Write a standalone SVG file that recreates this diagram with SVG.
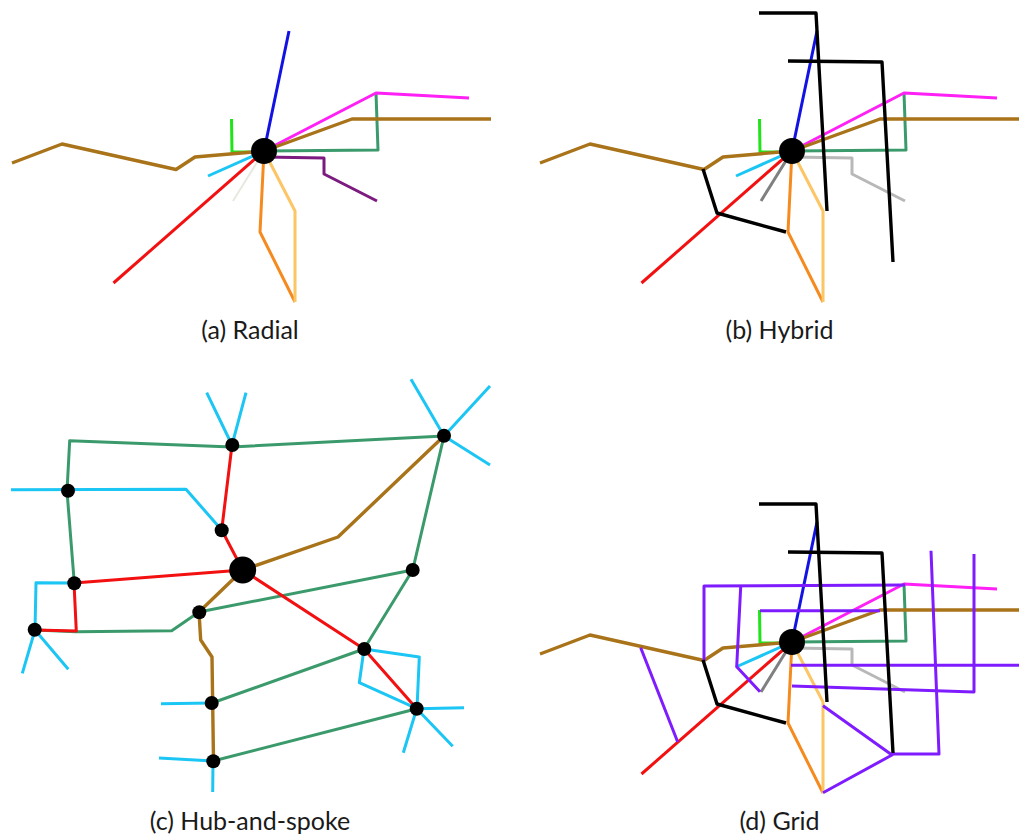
<svg xmlns="http://www.w3.org/2000/svg" width="1019" height="836" viewBox="0 0 1019 836">
<style>
polyline{fill:none;stroke-width:3;stroke-linejoin:round;stroke-linecap:butt}
.br{stroke:#a9731a;stroke-width:3.4}.gn{stroke:#3b9a6b}.cy{stroke:#1cc6f4}.mg{stroke:#ff20f5}
.bl{stroke:#1212e4}.lm{stroke:#20e41a}.rd{stroke:#f21010}.or{stroke:#f58a1e}.lo{stroke:#fcc565}
.pu{stroke:#7c1a80}.pa{stroke:#e8e8e0;stroke-width:2}.dg{stroke:#808080}.lg{stroke:#b8b8b8}
.bk{stroke:#000;stroke-width:3.4}.vi{stroke:#7f1cff}
circle{fill:#000}
text{font-family:"Lato","Open Sans",sans-serif;font-size:25px;fill:#1a1a1a;text-anchor:middle}
</style>
<g id="connectors">
<g id="connectors-a">
<polyline class="lm" points="231.5,119 232,152 264,152"/>
<polyline class="bl" points="264,151 289,31"/>
<polyline class="gn" points="264,151 378,150 376,93"/>
<polyline class="mg" points="264,151 376,93 469,98"/>
<polyline class="br" points="12,163 62,144 176,169.5 195,157 264,151 352,119 491,119"/>
<polyline class="cy" points="208,176 264,151"/>
<polyline class="pa" points="233,201 264,151"/>
<polyline class="rd" points="113.5,283 264,151"/>
<polyline class="or" points="264,151 260,232 295,302"/>
<polyline class="lo" points="264,151 295,211 295,302"/>
<polyline class="pu" points="264,157 324,158 324,174 377,201"/>
</g>
<g id="connectors-b" transform="translate(528 0)">
<polyline class="lm" points="231.5,119 232,152 264,152"/>
<polyline class="bl" points="264,151 289,31"/>
<polyline class="gn" points="264,151 378,150 376,93"/>
<polyline class="mg" points="264,151 376,93 469,98"/>
<polyline class="br" points="12,163 62,144 176,169.5 195,157 264,151 352,119 491,119"/>
<polyline class="cy" points="208,176 264,151"/>
<polyline class="dg" points="233,201 264,151"/>
<polyline class="rd" points="113.5,283 264,151"/>
<polyline class="or" points="264,151 260,232 295,302"/>
<polyline class="lo" points="264,151 295,211 295,302"/>
<polyline class="lg" points="264,157 324,158 324,174 377,201"/>
<polyline class="bk" points="231,13 288,13 299,211"/>
<polyline class="bk" points="260,61 354,62 365,262"/>
<polyline class="bk" points="175,169 189,213 258,232"/>
</g>
<g id="connectors-d" transform="translate(528 491)">
<polyline class="lm" points="231.5,119 232,152 264,152"/>
<polyline class="bl" points="264,151 289,31"/>
<polyline class="gn" points="264,151 378,150 376,93"/>
<polyline class="mg" points="264,151 376,93 469,98"/>
<polyline class="br" points="12,163 62,144 176,169.5 195,157 264,151 352,119 491,119"/>
<polyline class="cy" points="208,176 264,151"/>
<polyline class="dg" points="233,201 264,151"/>
<polyline class="rd" points="113.5,283 264,151"/>
<polyline class="or" points="264,151 260,232 295,302"/>
<polyline class="lo" points="264,151 295,211 295,302"/>
<polyline class="lg" points="264,157 324,158 324,174 377,201"/>
<polyline class="vi" points="176,170 176,95 377,94"/>
<polyline class="vi" points="212.7,95.7 208.7,175.7 232,200.7"/>
<polyline class="vi" points="232,119.7 352,119.7"/>
<polyline class="vi" points="263,174.3 491,174.3"/>
<polyline class="vi" points="264,195 446,201 446,63"/>
<polyline class="vi" points="403,59.7 411,263 364,263"/>
<polyline class="vi" points="295,214.7 364,264 295,301.7"/>
<polyline class="vi" points="112.7,156.7 149.7,251"/>
<polyline class="bk" points="231,13 288,13 299,211"/>
<polyline class="bk" points="260,61 354,62 365,262"/>
<polyline class="bk" points="175,169 189,213 258,232"/>
</g>
<g id="connectors-c">
<polyline class="gn" points="444,436 232,447 69.7,440.7 67,491 74.3,583"/>
<polyline class="gn" points="444,436 412.7,570 364,649 212,703"/>
<polyline class="gn" points="412.7,570 199,612 171.7,630.7 76.3,631.7 35,630"/>
<polyline class="gn" points="416.7,708.7 213,761"/>
<polyline class="rd" points="232,445 221.7,530 242.7,570 74,583 76.3,631 35,630"/>
<polyline class="rd" points="242.7,570 364,649 416.7,708.7"/>
<polyline class="br" points="444,436 338,537 242.7,570 199,612 200.7,640 212,657 213.5,761"/>
<polyline class="cy" points="206.7,392.7 232,445 246,392.7"/>
<polyline class="cy" points="411,379.3 444,436 490,386"/>
<polyline class="cy" points="444,436 490,465"/>
<polyline class="cy" points="11,489.7 186,489.3 221.7,530"/>
<polyline class="cy" points="74,583 36,582.7 35,630"/>
<polyline class="cy" points="22.3,673.3 35,630 68.3,669.3"/>
<polyline class="cy" points="364,649 419.3,657 417,708.7"/>
<polyline class="cy" points="364,649 359.3,682.7 417,708.7"/>
<polyline class="cy" points="416.7,708.7 464,707.7"/>
<polyline class="cy" points="416.7,708.7 452.7,746.3"/>
<polyline class="cy" points="416.7,708.7 403.3,752.7"/>
<polyline class="cy" points="212,703 161,703.7"/>
<polyline class="cy" points="213,761 159,758"/>
<polyline class="cy" points="213,761 212.7,792"/>
</g>
</g>
<g id="hub-a"><circle cx="264" cy="151" r="13"/></g>
<g id="hub-b"><circle cx="792" cy="151" r="13"/></g>
<g id="hub-d"><circle cx="792" cy="642" r="13"/></g>
<g id="hub-c"><circle cx="242.7" cy="570" r="13.5"/></g>
<g id="c-n1"><circle cx="232.3" cy="445" r="7"/></g>
<g id="c-n2"><circle cx="444" cy="435.7" r="7"/></g>
<g id="c-n3"><circle cx="68" cy="490.7" r="7"/></g>
<g id="c-n4"><circle cx="221.7" cy="530.3" r="7"/></g>
<g id="c-n5"><circle cx="74.3" cy="583.3" r="7"/></g>
<g id="c-n6"><circle cx="412.7" cy="570" r="7"/></g>
<g id="c-n7"><circle cx="199.3" cy="612.3" r="7"/></g>
<g id="c-n8"><circle cx="34.7" cy="629.7" r="7"/></g>
<g id="c-n9"><circle cx="364.3" cy="649" r="7"/></g>
<g id="c-n10"><circle cx="211.7" cy="703" r="7"/></g>
<g id="c-n11"><circle cx="416.7" cy="708.7" r="7"/></g>
<g id="c-n12"><circle cx="213.3" cy="761.3" r="7"/></g>
<g id="labels">
<text x="250" y="339">(a) Radial</text>
<text x="779.5" y="339">(b) Hybrid</text>
<text x="250" y="830">(c) Hub-and-spoke</text>
<text x="779.5" y="830">(d) Grid</text>
</g>
</svg>
